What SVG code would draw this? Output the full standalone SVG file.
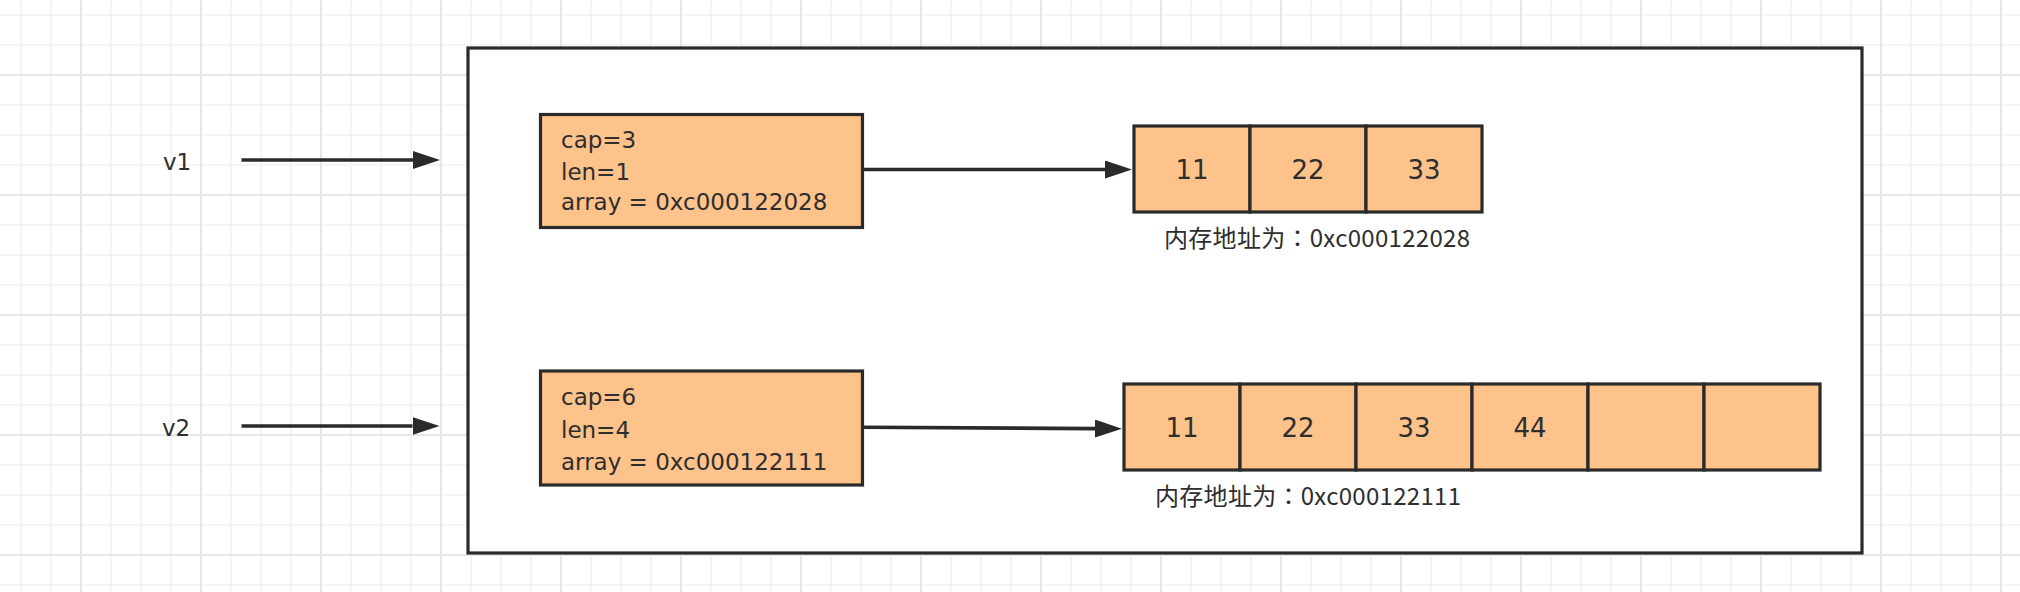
<svg xmlns="http://www.w3.org/2000/svg" width="2020" height="592" viewBox="0 0 2020 592">
<defs>
<style>
.gmin{stroke:#F1F1F1;stroke-width:1.5;fill:none}
.gmaj{stroke:#E6E6E6;stroke-width:2;fill:none}
.box{fill:#FEC28B;stroke:#2A2A2A;stroke-width:3.2}
.frame{fill:#FFFFFF;stroke:#2A2A2A;stroke-width:3.2}
.conn{stroke:#2A2A2A;stroke-width:3.6;fill:none}
.lbl{font-family:"DejaVu Sans","Open Sans",sans-serif;font-size:23px;fill:#2E2E2E}
.st{font-family:"DejaVu Sans","Open Sans",sans-serif;font-size:23px;fill:#2E2E2E}
.cell{font-family:"DejaVu Sans","Open Sans",sans-serif;font-size:26px;fill:#2E2E2E;text-anchor:middle}
.cap{font-family:"Noto Sans CJK SC","Noto Sans",sans-serif;font-size:24px;fill:#2E2E2E}
.colon{font-family:"Noto Sans CJK TC","Noto Sans CJK SC",sans-serif}
</style>
<marker id="ah" markerUnits="userSpaceOnUse" markerWidth="27" markerHeight="18" viewBox="0 0 27 18" refX="0" refY="9" orient="auto">
<path d="M0,0 L27,9 L0,18 Z" fill="#2A2A2A"/>
</marker>
</defs>
<rect width="2020" height="592" fill="#FFFFFF"/>
<g id="grid">
<path class="gmin" d="M21,0V592M51,0V592M111,0V592M141,0V592M171,0V592M231,0V592M261,0V592M291,0V592M351,0V592M381,0V592M411,0V592M471,0V592M501,0V592M531,0V592M591,0V592M621,0V592M651,0V592M711,0V592M741,0V592M771,0V592M831,0V592M861,0V592M891,0V592M951,0V592M981,0V592M1011,0V592M1071,0V592M1101,0V592M1131,0V592M1191,0V592M1221,0V592M1251,0V592M1311,0V592M1341,0V592M1371,0V592M1431,0V592M1461,0V592M1491,0V592M1551,0V592M1581,0V592M1611,0V592M1671,0V592M1701,0V592M1731,0V592M1791,0V592M1821,0V592M1851,0V592M1911,0V592M1941,0V592M1971,0V592"/>
<path class="gmin" d="M0,15H2020M0,45H2020M0,105H2020M0,135H2020M0,165H2020M0,225H2020M0,255H2020M0,285H2020M0,345H2020M0,375H2020M0,405H2020M0,465H2020M0,495H2020M0,525H2020M0,585H2020"/>
<path class="gmaj" d="M81,0V592M201,0V592M321,0V592M441,0V592M561,0V592M681,0V592M801,0V592M921,0V592M1041,0V592M1161,0V592M1281,0V592M1401,0V592M1521,0V592M1641,0V592M1761,0V592M1881,0V592M2001,0V592"/>
<path class="gmaj" d="M0,75H2020M0,195H2020M0,315H2020M0,435H2020M0,555H2020"/>
</g>
<g id="memory">
<rect class="frame" x="468" y="48" width="1394" height="505"/>
</g>
<g id="v1">
<text class="lbl" x="163" y="170">v1</text>
</g>
<g id="v2">
<text class="lbl" x="162" y="436">v2</text>
</g>
<g id="slice1">
<rect class="box" x="540.5" y="114.5" width="322" height="113"/>
<text class="st"><tspan x="561" y="147.5">cap=3</tspan><tspan x="561" y="180">len=1</tspan><tspan x="561" y="210">array = 0xc000122028</tspan></text>
</g>
<g id="slice2">
<rect class="box" x="540.5" y="371" width="322" height="114"/>
<text class="st"><tspan x="561" y="405">cap=6</tspan><tspan x="561" y="438">len=4</tspan><tspan x="561" y="469.5">array = 0xc000122111</tspan></text>
</g>
<g id="array1">
<rect class="box" x="1134" y="126" width="116" height="86"/>
<rect class="box" x="1250" y="126" width="116" height="86"/>
<rect class="box" x="1366" y="126" width="116" height="86"/>
<text class="cell" x="1192" y="179">11</text>
<text class="cell" x="1308" y="179">22</text>
<text class="cell" x="1424" y="179">33</text>
<text class="cap" x="1164" y="246.5" textLength="306">内存地址为<tspan class="colon">：</tspan>0xc000122028</text>
</g>
<g id="array2">
<rect class="box" x="1124" y="384" width="116" height="86"/>
<rect class="box" x="1240" y="384" width="116" height="86"/>
<rect class="box" x="1356" y="384" width="116" height="86"/>
<rect class="box" x="1472" y="384" width="116" height="86"/>
<rect class="box" x="1588" y="384" width="116" height="86"/>
<rect class="box" x="1704" y="384" width="116" height="86"/>
<text class="cell" x="1182" y="437">11</text>
<text class="cell" x="1298" y="437">22</text>
<text class="cell" x="1414" y="437">33</text>
<text class="cell" x="1530" y="437">44</text>
<text class="cap" x="1155" y="504.5" textLength="306">内存地址为<tspan class="colon">：</tspan>0xc000122111</text>
</g>
<g id="connectors">
<path class="conn" d="M241.5,160 H413" marker-end="url(#ah)"/>
<path class="conn" d="M241.5,426 H412.5" marker-end="url(#ah)"/>
<path class="conn" d="M864,169.5 H1105" marker-end="url(#ah)"/>
<path class="conn" d="M864,427.3 L1095,428.6" marker-end="url(#ah)"/>
</g>
</svg>
